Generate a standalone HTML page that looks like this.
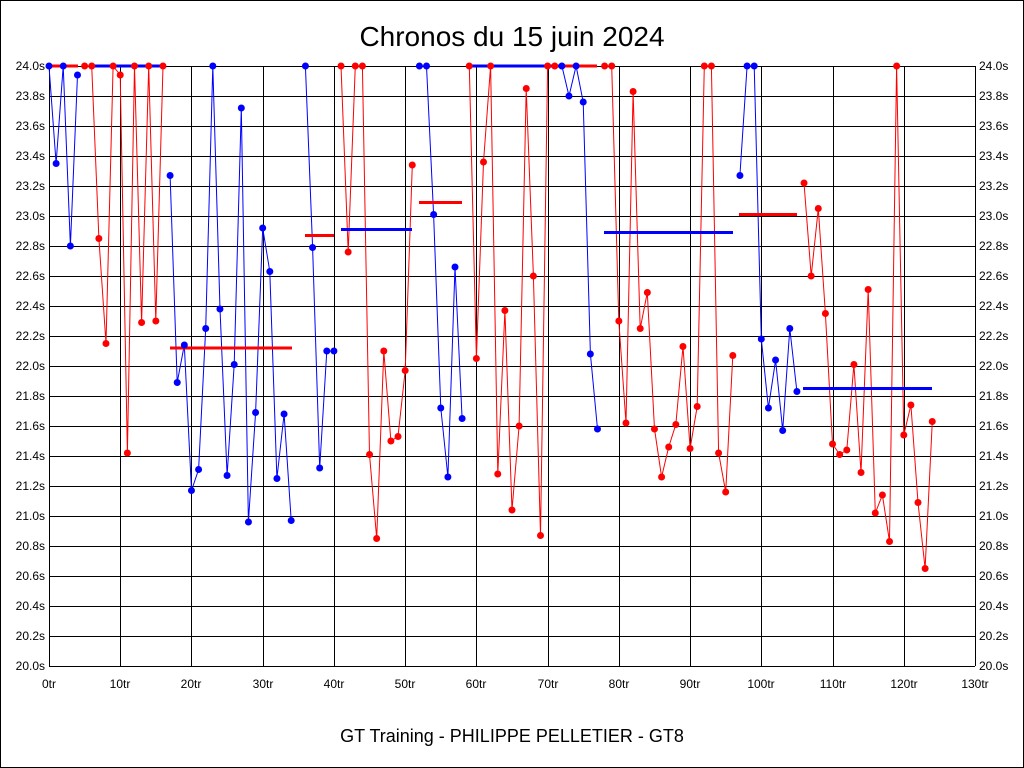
<!DOCTYPE html>
<html><head><meta charset="utf-8"><style>
html,body{margin:0;padding:0;background:#fff}
svg{display:block}
text{font-family:"Liberation Sans",sans-serif}
</style></head><body>
<svg id="s" width="1024" height="768" xmlns="http://www.w3.org/2000/svg">
<rect x="0.5" y="0.5" width="1023" height="767" fill="#fff" stroke="#000"/>
<text x="512" y="46" font-size="28" text-anchor="middle">Chronos du 15 juin 2024</text>
<text x="512" y="742" font-size="18" text-anchor="middle">GT Training - PHILIPPE PELLETIER - GT8</text>
<g id="g"></g>
</svg>
<script>
const g=document.getElementById('g');
const X=i=>49+i*926/130, Y=v=>66+(24-v)*150;
let h='';
for(let k=0;k<=20;k++){const y=66+k*30;h+=`<line x1="49" x2="975" y1="${y+0.5}" y2="${y+0.5}" stroke="#000" shape-rendering="crispEdges"/>`;
const lab=(24-k*0.2).toFixed(1)+'s';
h+=`<text x="45" y="${y+4}" font-size="12" text-anchor="end">${lab}</text><text x="979" y="${y+4}" font-size="12">${lab}</text>`;}
for(let k=0;k<=13;k++){const x=Math.round(X(k*10));h+=`<line x1="${x+0.5}" x2="${x+0.5}" y1="66" y2="666" stroke="#000" shape-rendering="crispEdges"/>`;
h+=`<text x="${x}" y="688" font-size="12" text-anchor="middle">${k*10}tr</text>`;}
const segs=[
['b',0,[24,23.35,24,22.8,23.94]],
['r',5,[24,24,22.85,22.15,24,23.94,21.42,24,22.29,24,22.3,24]],
['b',17,[23.27,21.89,22.14,21.17,21.31,22.25,24,22.38,21.27,22.01,23.72,20.96,21.69,22.92,22.63,21.25,21.68,20.97]],
['b',36,[24,22.79,21.32,22.1,22.1]],
['r',41,[24,22.76,24,24,21.41,20.85,22.1,21.5,21.53,21.97,23.34]],
['b',52,[24,24,23.01,21.72,21.26,22.66,21.65]],
['r',59,[24,22.05,23.36,24,21.28,22.37,21.04,21.6,23.85,22.6,20.87,24,24]],
['b',72,[24,23.8,24,23.76,22.08,21.58]],
['r',78,[24,24,22.3,21.62,23.83,22.25,22.49,21.58,21.26,21.46,21.61,22.13,21.45,21.73,24,24,21.42,21.16,22.07]],
['b',97,[23.27,24,24,22.18,21.72,22.04,21.57,22.25,21.83]],
['r',106,[23.22,22.6,23.05,22.35,21.48,21.41,21.44,22.01,21.29,22.51,21.02,21.14,20.83,24,21.54,21.74,21.09,20.65,21.63]]];
const avgs=[['r',49,78,24],['b',92,164,24],['r',170,292,22.12],['r',305,334,22.87],['b',341,412,22.91],['r',419,462,23.09],['b',469,560,24],['r',560,597,24],['b',604,733,22.89],['r',739,797,23.01],['b',803,932,21.85]];
const col=c=>c=='r'?'#f00':'#00f';
for(const [c,s,v] of segs){
 const pts=v.map((y,j)=>X(s+j).toFixed(1)+','+Y(y).toFixed(1)).join(' ');
 h+=`<polyline points="${pts}" fill="none" stroke="${col(c)}" stroke-width="1"/>`;
}
for(const [c,a,b,v] of avgs){h+=`<line x1="${a}" x2="${b}" y1="${Y(v)}" y2="${Y(v)}" stroke="${col(c)}" stroke-width="3"/>`;}
for(const [c,s,v] of segs){v.forEach((y,j)=>{h+=`<circle cx="${X(s+j)}" cy="${Y(y)}" r="3.5" fill="${col(c)}"/>`;});}
g.innerHTML=h;
</script>
</body></html>
